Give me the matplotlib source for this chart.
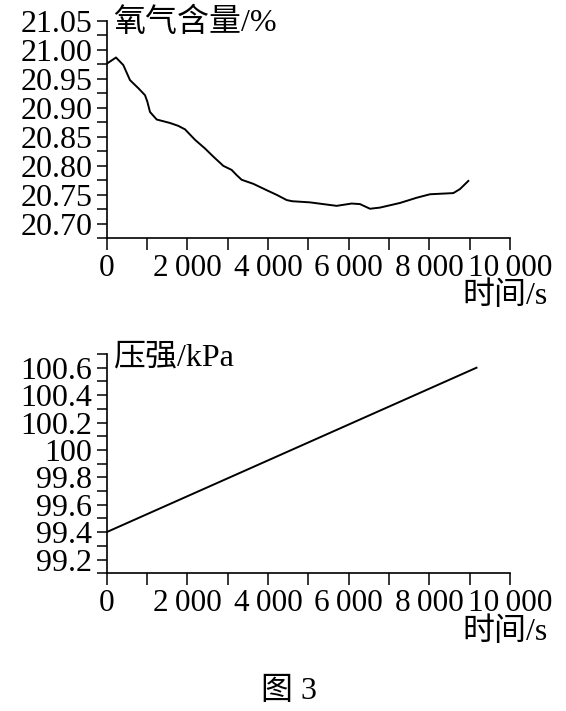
import matplotlib.pyplot as plt
from matplotlib.ticker import MultipleLocator, FixedLocator

plt.rcParams['font.family'] = ['Liberation Serif', 'Noto Sans CJK SC', 'DejaVu Serif']

# oxygen content (%) vs time (s)
t_o2 = [0, 235, 416, 582, 789, 954, 1011, 1078, 1244, 1574, 1780, 1946,
        2193, 2441, 2647, 2895, 3102, 3226, 3350, 3639, 3970, 4218, 4466,
        4600, 5043, 5373, 5704, 6076, 6283, 6530, 6778, 7274, 7687, 8017,
        8595, 8761, 8967]
o2 = [20.976, 20.987, 20.974, 20.948, 20.934, 20.922, 20.911, 20.893,
      20.880, 20.874, 20.869, 20.863, 20.845, 20.830, 20.816, 20.800,
      20.793, 20.784, 20.776, 20.769, 20.758, 20.750, 20.741, 20.739,
      20.737, 20.734, 20.731, 20.735, 20.734, 20.726, 20.728, 20.736,
      20.745, 20.751, 20.753, 20.760, 20.774]

# pressure (kPa) vs time (s), lower panel
t_p = [0, 9170]
pressure = [99.4, 100.6]

x_major = [0, 2000, 4000, 6000, 8000, 10000]
x_labels = ['0', '2\u2009000', '4\u2009000', '6\u2009000', '8\u2009000', '10\u2009000']
o2_ticks = [20.70, 20.75, 20.80, 20.85, 20.90, 20.95, 21.00, 21.05]
o2_labels = ['20.70', '20.75', '20.80', '20.85', '20.90', '20.95', '21.00', '21.05']
p_ticks = [99.2, 99.4, 99.6, 99.8, 100.0, 100.2, 100.4, 100.6]
p_labels = ['99.2', '99.4', '99.6', '99.8', '100', '100.2', '100.4', '100.6']

W, H = 566, 711
fig = plt.figure(figsize=(W / 100, H / 100), dpi=100)


def add_ax(left, top, right, bottom):
    return fig.add_axes([left / W, 1 - bottom / H, (right - left) / W, (bottom - top) / H])


ax1 = add_ax(106.5, 21, 510, 238.3)
ax2 = add_ax(106.5, 354, 510, 573.3)

FS = 23


def style(ax, yticks, ylabels, yminor):
    for s in ['top', 'right']:
        ax.spines[s].set_visible(False)
    for s in ['left', 'bottom']:
        ax.spines[s].set_linewidth(1.2)
        ax.spines[s].set_color('black')
    ax.set_xlim(0, 10000)
    ax.set_xticks(x_major)
    ax.set_xticklabels(x_labels, fontsize=FS - 0.5)
    ax.xaxis.set_minor_locator(FixedLocator([1000, 3000, 5000, 7000, 9000]))
    ax.set_yticks(yticks)
    ax.set_yticklabels(ylabels, fontsize=FS)
    ax.yaxis.set_minor_locator(MultipleLocator(yminor))
    ax.tick_params(axis='x', which='both', direction='out', length=8.6, width=1.1, pad=3)
    ax.tick_params(axis='y', which='both', direction='out', length=7.2, width=1.1, pad=3)
    ax.patch.set_visible(False)


ax1.plot(t_o2, o2, color='black', lw=1.4)
ax1.set_ylim(20.675, 21.05)
style(ax1, o2_ticks, o2_labels, 0.025)

ax2.plot(t_p, pressure, color='black', lw=1.4)
ax2.set_ylim(99.1, 100.7)
style(ax2, p_ticks, p_labels, 0.1)

txt = dict(fontsize=23, fontweight='light', va='center')
fig.text(113 / W, 1 - 23 / H, '氧气含量/%', ha='left', **txt)
fig.text(548 / W, 1 - 296 / H, '时间/s', ha='right', **txt)
fig.text(113 / W, 1 - 358 / H, '压强/kPa', ha='left', **txt)
fig.text(548 / W, 1 - 632 / H, '时间/s', ha='right', **txt)
fig.text(289 / W, 1 - 692 / H, '图 3', ha='center', **txt)

fig.savefig('out.png', dpi=100)
